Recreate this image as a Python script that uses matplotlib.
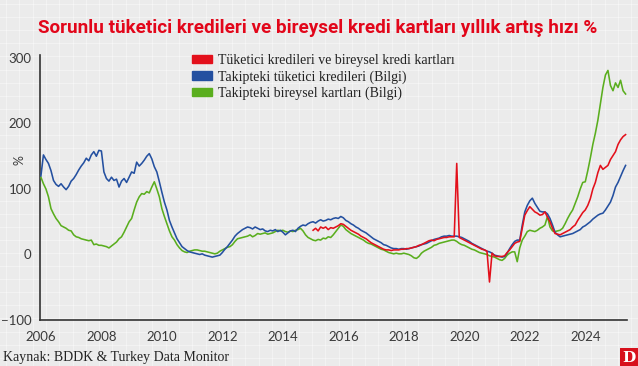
import numpy as np
import matplotlib
matplotlib.use("Agg")
import matplotlib.pyplot as plt
from matplotlib.patches import Rectangle, Patch

# ---------------- data (monthly, Jan 2006 -> May 2025) ----------------
start_year = 2006
blue = [
    120, 152, 145, 139, 128, 113, 107, 104, 108, 103, 99, 104,      # 2006
    112, 116, 122, 129, 135, 140, 147, 143, 152, 157, 150, 159,     # 2007
    158, 126, 116, 112, 118, 113, 115, 103, 112, 116, 110, 118,     # 2008
    126, 124, 141, 135, 139, 144, 150, 154, 146, 134, 126, 111,     # 2009
    95, 80, 68, 52, 42, 33, 24, 18, 12, 9, 6, 4,                    # 2010
    3, 2, 1, 0, 1, -1, -2, -3, -4, -3, -2, -1,                      # 2011
    3, 8, 12, 17, 22, 28, 32, 35, 38, 40, 42, 41,                   # 2012
    39, 42, 40, 38, 39, 36, 35, 37, 36, 38, 35, 37,                 # 2013
    34, 30, 33, 36, 37, 35, 40, 43, 45, 44, 47, 49,                 # 2014
    50, 48, 51, 53, 51, 52, 54, 53, 55, 56, 55, 58,                 # 2015
    56, 52, 50, 47, 45, 42, 40, 37, 35, 33, 30, 27,                 # 2016
    24, 22, 20, 18, 15, 14, 12, 10, 9, 9, 8, 9,                     # 2017
    9, 8, 9, 10, 11, 12, 13, 15, 16, 17, 19, 21,                    # 2018
    23, 24, 25, 27, 28, 28, 29, 28, 28, 28, 27, 26,                 # 2019
    24, 22, 20, 17, 15, 13, 11, 9, 7, 5, 4, 2,                      # 2020
    -1, -2, -3, -4, -3, 2, 9, 15, 20, 22, 22, 45,                   # 2021
    65, 75, 82, 86, 78, 72, 66, 65, 65, 62, 55, 45,                 # 2022
    34, 30, 27, 28, 29, 30, 31, 32, 34, 36, 38, 42,                 # 2023
    44, 47, 50, 54, 57, 60, 62, 63, 68, 74, 80, 90,                 # 2024
    103, 110, 119, 128, 136,                                        # 2025
]

red_start = 2015
red = [
    37, 40, 36, 42, 40, 42, 38, 41, 40, 42, 44, 47,                 # 2015
    46, 43, 40, 37, 35, 33, 31, 28, 26, 24, 21, 18,                 # 2016
    16, 14, 12, 10, 8, 7, 7, 6, 7, 7, 7, 8,                         # 2017
    8, 9, 9, 10, 11, 12, 14, 15, 17, 19, 21, 22,                    # 2018
    21, 23, 24, 25, 26, 26, 27, 27, 27, 139, 26, 24,                # 2019
    22, 20, 18, 16, 14, 12, 10, 8, 7, 5, -42, 2,                    # 2020
    -2, -3, -3, -3, -2, 3, 7, 12, 17, 19, 20, 40,                   # 2021
    60, 67, 73, 69, 65, 63, 60, 61, 65, 57, 50, 40,                 # 2022
    32, 31, 30, 32, 34, 36, 38, 42, 45, 52, 58, 64,                 # 2023
    68, 75, 85, 100, 110, 125, 136, 130, 133, 136, 145, 151,        # 2024
    157, 168, 175, 180, 183,                                        # 2025
]

green = [
    118, 108, 100, 88, 70, 62, 55, 50, 44, 42, 40, 37,              # 2006
    36, 30, 27, 26, 24, 23, 22, 21, 22, 15, 16, 14,                 # 2007
    14, 13, 12, 10, 13, 16, 19, 24, 27, 34, 42, 50,                 # 2008
    55, 68, 80, 88, 93, 92, 96, 94, 103, 111, 100, 88,              # 2009
    70, 58, 47, 36, 27, 22, 15, 10, 6, 4, 3, 5,                     # 2010
    6, 7, 7, 6, 5, 5, 4, 3, 2, 1, 2, 5,                             # 2011
    7, 9, 11, 12, 15, 20, 24, 25, 26, 27, 28, 30,                   # 2012
    27, 29, 32, 31, 32, 33, 31, 32, 33, 35, 37, 36,                 # 2013
    37, 35, 34, 36, 35, 37, 38, 40, 36, 30, 26, 24,                 # 2014
    22, 21, 23, 22, 25, 24, 27, 26, 30, 35, 40, 45,                 # 2015
    43, 38, 35, 32, 30, 28, 26, 24, 22, 19, 17, 16,                 # 2016
    14, 12, 10, 8, 7, 5, 3, 2, 1, 2, 1, 1,                          # 2017
    2, 1, 0, -2, -5, -6, -3, 2, 5, 7, 9, 11,                        # 2018
    14, 15, 17, 18, 19, 20, 21, 22, 22, 20, 17, 15,                 # 2019
    14, 12, 10, 8, 7, 5, 3, 2, 1, 0, -2, -3,                        # 2020
    -4, -6, -8, -9, -6, -1, 2, 4, 4, -11, 10, 22,                   # 2021
    28, 35, 37, 36, 35, 37, 40, 42, 45, 58, 42, 36,                 # 2022
    35, 36, 37, 40, 47, 55, 62, 68, 78, 88, 100, 110,               # 2023
    111, 128, 147, 168, 185, 205, 230, 255, 274, 281, 258, 250,     # 2024
    262, 255, 266, 250, 245,                                        # 2025
]

labels = [
    "Tüketici kredileri ve bireysel kredi kartları",
    "Takipteki tüketici kredileri (Bilgi)",
    "Takipteki bireysel kartları (Bilgi)",
]
x_ticks = list(range(2006, 2025, 2))
y_ticks = [-100, 0, 100, 200, 300]

RED, BLUE, GREEN = "#e3101b", "#2450a0", "#5aae1e"

def months(start, n):
    return start + np.arange(n) / 12.0

W, H = 638, 366
fig = plt.figure(figsize=(W / 100, H / 100), dpi=100)
fig.patch.set_facecolor("#ebebeb")

# background paper grid
bg = fig.add_axes([0, 0, 1, 1], zorder=-10)
bg.set_xlim(0, W)
bg.set_ylim(H, 0)
bg.axis("off")
for gx in np.arange(6, W, 13.3):
    bg.axvline(gx, color="white", lw=0.7, alpha=0.4)
for gy in np.arange(4, H, 13.1):
    bg.axhline(gy, color="white", lw=0.7, alpha=0.4)

ax = fig.add_axes([40 / W, 46 / H, 587 / W, 265.3 / H])
ax.set_facecolor("none")

lw = 1.15
ax.plot(months(start_year, len(green)), green, color=GREEN, lw=lw, zorder=3)
ax.plot(months(start_year, len(blue)), blue, color=BLUE, lw=lw, zorder=4)
ax.plot(months(red_start, len(red)), red, color=RED, lw=lw, zorder=5)

ax.set_xlim(2005.97, 2025.38)
ax.set_ylim(-100, 305)
ax.set_xticks(x_ticks)
ax.set_yticks(y_ticks)
ax.tick_params(length=0, labelsize=9.5, labelcolor="#3a3a3a")
ax.tick_params(axis="x", pad=8)
ax.tick_params(axis="y", pad=6)
for lab in ax.get_xticklabels() + ax.get_yticklabels():
    lab.set_family("Lato")
for s in ["top", "right"]:
    ax.spines[s].set_visible(False)
for s in ["left", "bottom"]:
    ax.spines[s].set_color("#333333")
    ax.spines[s].set_linewidth(1.2)

fig.text(20 / W, 1 - 160 / H, "%", rotation=90, ha="center", va="center",
         fontsize=9, color="#3a3a3a", family="Lato")

handles = [Patch(color=c) for c in (RED, BLUE, GREEN)]
leg = fig.legend(handles, labels, loc="upper left",
                 bbox_to_anchor=(192 / W, 1 - 54 / H),
                 frameon=False, handlelength=1.45, handleheight=0.55,
                 handletextpad=0.4, labelspacing=0.22,
                 borderpad=0, borderaxespad=0,
                 prop={"family": "Liberation Serif", "size": 10})
for t in leg.get_texts():
    t.set_color("#222222")

fig.text(318 / W, 1 - 28 / H,
         "Sorunlu tüketici kredileri ve bireysel kredi kartları yıllık artış hızı %",
         ha="center", va="center", fontsize=13.6, fontweight="bold",
         color="#e2061a", family="Roboto")

fig.text(3 / W, 1 - 358 / H, "Kaynak: BDDK & Turkey Data Monitor",
         ha="left", va="center", fontsize=10, color="#222222",
         family="Liberation Serif")

# logo
logo = fig.add_axes([620 / W, 0, 18 / W, 18 / H])
logo.set_xlim(0, 1); logo.set_ylim(0, 1); logo.axis("off")
logo.add_patch(Rectangle((0, 0), 1, 1, color="#d7101c"))
logo.text(0.5, 0.45, "D", ha="center", va="center", color="white",
          fontsize=11, fontweight="bold", family="DejaVu Serif")

fig.savefig("out.png", dpi=100, facecolor=fig.get_facecolor())
